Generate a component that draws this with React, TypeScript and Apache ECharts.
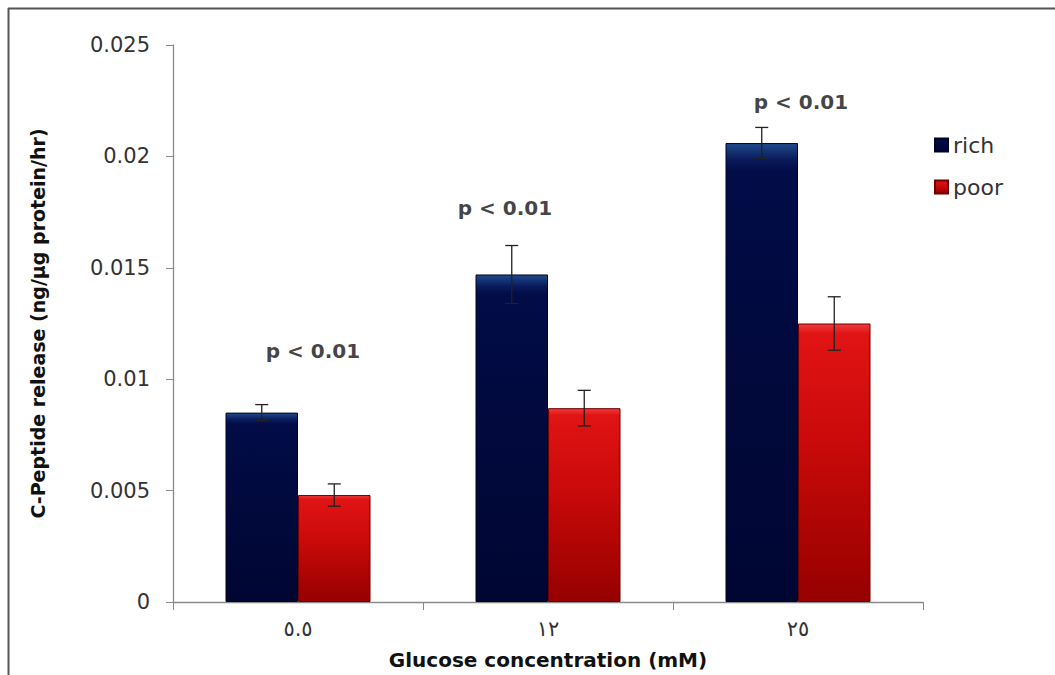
import React, { useEffect, useRef } from "react";
import * as echarts from "echarts";

const categories = ["٥.٥", "١٢", "٢٥"];
const seriesNames = ["rich", "poor"];
const richValues = [0.0085, 0.0147, 0.0206];
const poorValues = [0.0048, 0.0087, 0.0125];
const richErrors = [0.00036, 0.0013, 0.0007];
const poorErrors = [0.0005, 0.0008, 0.0012];
const pLabels = ["p < 0.01", "p < 0.01", "p < 0.01"];
const pLabelValues = [0.01125, 0.0177, 0.02245];
const yTicks = [0, 0.005, 0.01, 0.015, 0.02, 0.025];

const FONT = "'DejaVu Sans', 'Open Sans', sans-serif";

export default function App() {
  const ref = useRef<HTMLDivElement>(null);
  useEffect(() => {
    document.body.style.margin = "0";
    const chart = echarts.init(ref.current!, null, { renderer: "svg" });
    const richColor = new echarts.graphic.LinearGradient(0, 0, 0, 1, [
      { offset: 0, color: "#1e4a8c" },
      { offset: 0.035, color: "#0a1a5a" },
      { offset: 0.06, color: "#020c46" },
      { offset: 1, color: "#000632" },
    ]);
    const poorColor = new echarts.graphic.LinearGradient(0, 0, 0, 1, [
      { offset: 0, color: "#f23a3a" },
      { offset: 0.035, color: "#e01414" },
      { offset: 0.4, color: "#cc0a0a" },
      { offset: 1, color: "#960000" },
    ]);
    const errSeries = (vals: number[], errs: number[], side: number) => ({
      type: "custom",
      silent: true,
      z: 5,
      data: vals.map((v, i) => [i, v, errs[i]]),
      encode: { x: 0, y: 1 },
      renderItem: (params: any, api: any) => {
        const i = api.value(0);
        const v = api.value(1);
        const e = api.value(2);
        const bw = (api.size([1, 0])[0] * 0.58) / 2;
        const c = api.coord([i, v]);
        const x = c[0] + (side * bw) / 2;
        const top = api.coord([i, v + e])[1];
        const bot = api.coord([i, v - e])[1];
        const style = { stroke: "#222", lineWidth: 1.3 };
        return {
          type: "group",
          children: [
            { type: "line", shape: { x1: x, y1: top, x2: x, y2: bot }, style },
            { type: "line", shape: { x1: x - 6.5, y1: top, x2: x + 6.5, y2: top }, style },
            { type: "line", shape: { x1: x - 6.5, y1: bot, x2: x + 6.5, y2: bot }, style },
          ],
        };
      },
    });
    const pOffsets = [15, -43, 3];
    chart.setOption({
      animation: false,
      backgroundColor: "#fff",
      grid: { left: 173, right: 132, top: 45, bottom: 63 },
      legend: {
        orient: "vertical",
        left: 929,
        top: 129,
        itemWidth: 13,
        itemHeight: 13,
        itemGap: 20,
        icon: "rect",
        data: seriesNames,
        textStyle: { fontFamily: FONT, fontSize: 22, color: "#333" },
      },
      xAxis: {
        type: "category",
        data: categories,
        name: "Glucose concentration (mM)",
        nameLocation: "middle",
        nameGap: 48,
        nameTextStyle: { fontFamily: FONT, fontSize: 20, fontWeight: "bold", color: "#111" },
        axisLine: { lineStyle: { color: "#8a8a8a", width: 1.3 } },
        axisTick: { show: true, length: 8, lineStyle: { color: "#8a8a8a" } },
        axisLabel: { fontFamily: FONT, fontSize: 21, color: "#333", margin: 16 },
      },
      yAxis: {
        type: "value",
        min: 0,
        max: 0.025,
        interval: 0.005,
        name: "C-Peptide release (ng/µg protein/hr)",
        nameLocation: "middle",
        nameGap: 126,
        nameTextStyle: { fontFamily: FONT, fontSize: 19, fontWeight: "bold", color: "#111" },
        axisLine: { show: true, lineStyle: { color: "#8a8a8a", width: 1.3 } },
        axisTick: { show: true, length: 7, lineStyle: { color: "#8a8a8a" } },
        splitLine: { show: false },
        axisLabel: {
          fontFamily: FONT,
          fontSize: 21,
          color: "#333",
          margin: 23,
          formatter: (v: number) => {
            const idx = yTicks.findIndex((t) => Math.abs(t - v) < 1e-9);
            return idx >= 0 ? String(yTicks[idx]) : "";
          },
        },
      },
      series: [
        {
          name: seriesNames[0],
          type: "bar",
          data: richValues,
          barGap: "0%",
          barCategoryGap: "42%",
          itemStyle: { color: richColor, borderColor: "#000420", borderWidth: 1 },
        },
        {
          name: seriesNames[1],
          type: "bar",
          data: poorValues,
          itemStyle: { color: poorColor, borderColor: "#700000", borderWidth: 1 },
        },
        errSeries(richValues, richErrors, -1),
        errSeries(poorValues, poorErrors, 1),
        {
          type: "scatter",
          symbolSize: 0,
          silent: true,
          data: pLabelValues.map((v, i) => ({
            value: [i, v],
            label: {
              show: true,
              formatter: pLabels[i],
              position: "inside",
              offset: [pOffsets[i], 0],
              fontFamily: FONT,
              fontSize: 20,
              fontWeight: "bold",
              color: "#111",
            },
          })),
        },
      ],
      graphic: [
        { type: "line", shape: { x1: 8, y1: 8.5, x2: 1055, y2: 8.5 }, style: { stroke: "#555", lineWidth: 2 } },
        { type: "line", shape: { x1: 8.5, y1: 8, x2: 8.5, y2: 675 }, style: { stroke: "#555", lineWidth: 2 } },
      ],
    });
    return () => chart.dispose();
  }, []);
  return <div ref={ref} style={{ width: 1055, height: 675, position: "absolute", left: 0, top: 0 }} />;
}
